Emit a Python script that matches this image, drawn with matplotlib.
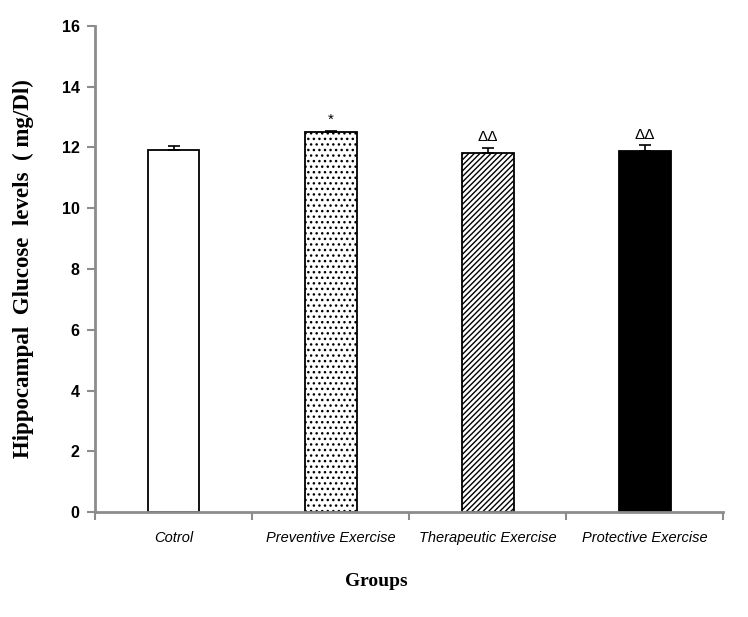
import matplotlib
matplotlib.use("Agg")
import matplotlib.pyplot as plt

categories = ["Cotrol", "Preventive Exercise", "Therapeutic Exercise", "Protective Exercise"]
values = [11.92, 12.5, 11.81, 11.88]
errors = [0.12, 0.05, 0.17, 0.19]
marks = ["", "*", "ΔΔ", "ΔΔ"]
yticks = [0, 2, 4, 6, 8, 10, 12, 14, 16]

fills = ["white", "white", "white", "black"]
hatches = [None, "...", "//////", None]

plt.rcParams['hatch.linewidth'] = 1.0
fig = plt.figure(figsize=(7.48, 6.17), dpi=100)
ax = fig.add_axes([0.127, 0.170, 0.840, 0.788])

sans = ['Liberation Sans', 'DejaVu Sans']
xs = list(range(len(categories)))
for x, v, e, fc, h in zip(xs, values, errors, fills, hatches):
    ax.bar(x, v, width=0.33, color=fc, edgecolor="black", hatch=h, linewidth=1.3, zorder=2)
    ax.errorbar(x, v, yerr=[[0], [e]], fmt="none", ecolor="black", elinewidth=1.2, capsize=4, capthick=1.2, zorder=3)
for x, v, e, m in zip(xs, values, errors, marks):
    if m:
        ax.text(x, v + e + 0.12, m, ha="center", va="bottom", fontsize=11, family=sans)

ax.set_xlim(-0.5, len(categories) - 0.5)
ax.set_ylim(0, 16)
ax.set_yticks(yticks)
ax.set_yticklabels([str(t) for t in yticks], family=sans, fontweight="bold", fontsize=11.5)
ax.set_xticks([i - 0.5 for i in range(len(categories) + 1)])
ax.set_xticklabels([])
for x, c in zip(xs, categories):
    ax.text(x, -0.62, c, ha="center", va="top", fontsize=10.5, style="italic", family=sans,
            transform=ax.transData)

for s in ["top", "right"]:
    ax.spines[s].set_visible(False)
for s in ["left", "bottom"]:
    ax.spines[s].set_color("#8c8c8c")
    ax.spines[s].set_linewidth(2)
ax.tick_params(axis="both", direction="out", color="#8c8c8c", width=1.5, length=6)
ax.tick_params(axis="y", pad=5)

ax.set_ylabel("Hippocampal  Glucose  levels  ( mg/Dl)", family=['Liberation Serif', 'DejaVu Serif'],
              fontweight="bold", fontsize=16.5, labelpad=20)
fig.text(0.503, 0.057, "Groups", ha="center", va="center", family=['Liberation Serif', 'DejaVu Serif'],
         fontweight="bold", fontsize=14)

fig.savefig("out.png", dpi=100)
